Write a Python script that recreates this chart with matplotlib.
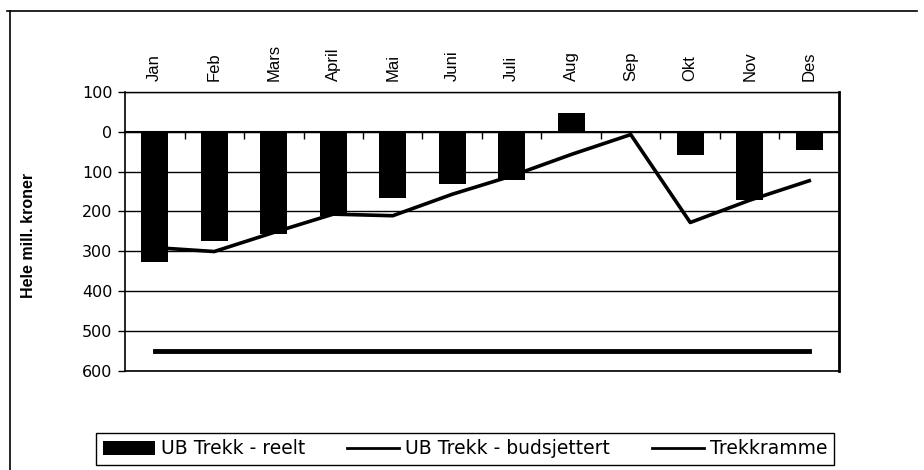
import matplotlib
matplotlib.use("Agg")
import matplotlib.pyplot as plt
from matplotlib.lines import Line2D
import numpy as np

plt.rcParams['font.family'] = ['Liberation Sans', 'DejaVu Sans']

months = ["Jan", "Feb", "Mars", "April", "Mai", "Juni", "Juli", "Aug", "Sep", "Okt", "Nov", "Des"]
reelt = [-328, -274, -257, -211, -166, -132, -121, 46, -3, -59, -171, -45]
budsjettert = [-291, -301, -253, -207, -211, -157, -111, -57, -7, -228, -172, -123]
trekkramme = [-550] * 12
yticks = [100, 0, -100, -200, -300, -400, -500, -600]
ytick_labels = ["100", "0", "100", "200", "300", "400", "500", "600"]

fig = plt.figure(figsize=(9.24, 4.70), dpi=100)
ax = fig.add_axes([125/924, 1-370.5/470, (839-125)/924, (370.5-92)/470])

x = np.arange(len(months))
h_bar = ax.bar(x, reelt, width=0.46, color='black', zorder=3, label='UB Trekk - reelt')
h_bud, = ax.plot(x, budsjettert, color='black', lw=2.6, zorder=4, label='UB Trekk - budsjettert')
h_tr, = ax.plot(x, trekkramme, color='black', lw=3.5, zorder=4, label='Trekkramme')

ax.set_xlim(-0.5, len(months) - 0.5)
ax.set_ylim(-600, 100)
ax.set_yticks(yticks)
ax.set_yticklabels(ytick_labels, fontsize=11.5, family=['DejaVu Sans'])
ax.tick_params(axis='y', length=5, direction='out', width=1, pad=4)
ax.yaxis.grid(True, color='black', lw=1, zorder=1)
ax.axhline(-600, color='black', lw=1.2, clip_on=False, zorder=2)

# category axis at zero with boundary ticks
ax.spines['bottom'].set_position(('data', 0))
ax.spines['bottom'].set_linewidth(1.5)
ax.set_xticks(np.arange(0.5, len(months) - 0.5, 1.0))
ax.set_xticklabels([])
ax.tick_params(axis='x', length=5, direction='out', width=1)
ax.spines['top'].set_linewidth(1)
ax.spines['left'].set_linewidth(1.2)
ax.spines['right'].set_linewidth(2)

sec = ax.secondary_xaxis('top')
sec.set_xticks(x)
sec.set_xticklabels(months, rotation=90, fontsize=12)
sec.tick_params(length=0, pad=8)
sec.spines['top'].set_visible(False)

fig.text(0.031, 0.50, "Hele mill. kroner", rotation=90, ha='center', va='center',
         fontsize=11.5, fontweight='bold')

leg = fig.legend([h_bar, h_bud, h_tr], ['UB Trekk - reelt', 'UB Trekk - budsjettert', 'Trekkramme'],
                 loc='center', bbox_to_anchor=(96/924, 1-467/470, 738/924, 36/470), mode='expand',
                 ncol=3, prop={'family': ['DejaVu Sans'], 'size': 13.5},
                 frameon=True, fancybox=False, edgecolor='black', framealpha=1,
                 handlelength=2.8, handleheight=0.7, handletextpad=0.3, columnspacing=0.3,
                 borderpad=0.35, borderaxespad=0)
leg.get_frame().set_linewidth(1)
for lh in leg.get_lines():
    lh.set_linewidth(2)

# outer chart border (top and left visible)
fig.add_artist(Line2D([10/924, 10/924], [0, 1-11/470], color='black', lw=1.2, transform=fig.transFigure))
fig.add_artist(Line2D([7/924, 917/924], [1-11/470, 1-11/470], color='black', lw=1.2, transform=fig.transFigure))

fig.savefig("out.png", dpi=100)
